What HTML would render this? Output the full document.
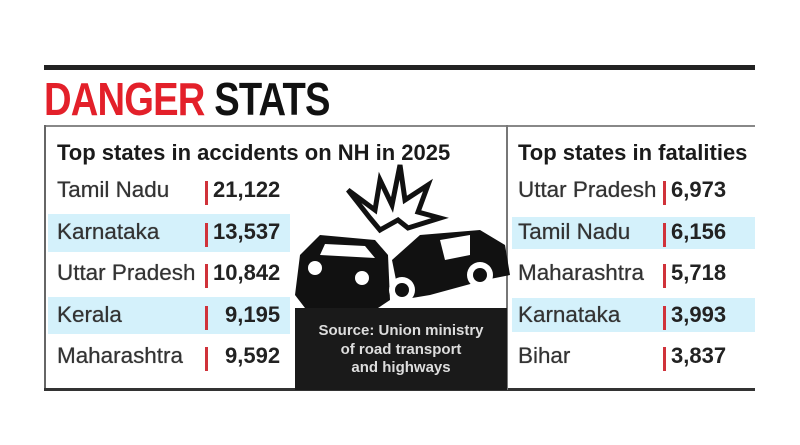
<!DOCTYPE html>
<html><head><meta charset="utf-8"><style>
body{margin:0;width:800px;height:445px;background:#fff;position:relative;overflow:hidden;font-family:"Liberation Sans Narrow","Liberation Sans",sans-serif;}
.a{position:absolute;white-space:nowrap;}
.t{font-weight:bold;font-size:46px;top:72px;left:44px;transform:scaleX(0.83);transform-origin:left;letter-spacing:-1px}
.h{font-weight:bold;font-size:22px;color:#1a1a1a;transform:scaleX(1.0);transform-origin:left}
.n{font-size:22px;color:#333;transform:scaleX(1.02);transform-origin:left;text-shadow:0 0 0.6px #333}
.v{font-size:22px;font-weight:bold;color:#222;transform:scaleX(1.0);transform-origin:left}
.bar{position:absolute;width:3px;height:24px;background:#d0323a}
.band{position:absolute;background:#d4f1fb}
</style></head><body>
<div class="a" style="left:44px;top:65px;width:711px;height:5px;background:#222"></div>
<div class="a t"><span style="color:#e3202a">DANGER</span> <span style="color:#111">STATS</span></div>
<div class="a" style="left:44px;top:125px;width:711px;height:2px;background:#888"></div>
<div class="a" style="left:44px;top:125px;width:2px;height:265px;background:#666"></div>
<div class="a" style="left:44px;top:388px;width:711px;height:3px;background:#333"></div>
<div class="a" style="left:506px;top:125px;width:2px;height:265px;background:#777"></div>
<div class="band" style="left:48px;top:214px;width:242px;height:38px"></div>
<div class="band" style="left:48px;top:297px;width:242px;height:37px"></div>
<div class="band" style="left:512px;top:217px;width:243px;height:32px"></div>
<div class="band" style="left:512px;top:298px;width:243px;height:34px"></div>
<div class="a h" style="left:57px;top:140px">Top states in accidents on NH in 2025</div>
<div class="a h" style="left:518px;top:140px">Top states in fatalities</div>

<div class="a n" style="left:57px;top:177px">Tamil Nadu</div><div class="bar" style="left:205px;top:181px"></div><div class="a v" style="left:213px;top:177px">21,122</div>
<div class="a n" style="left:57px;top:219px">Karnataka</div><div class="bar" style="left:205px;top:223px"></div><div class="a v" style="left:213px;top:219px">13,537</div>
<div class="a n" style="left:57px;top:260px">Uttar Pradesh</div><div class="bar" style="left:205px;top:264px"></div><div class="a v" style="left:213px;top:260px">10,842</div>
<div class="a n" style="left:57px;top:302px">Kerala</div><div class="bar" style="left:205px;top:306px"></div><div class="a v" style="left:225px;top:302px">9,195</div>
<div class="a n" style="left:57px;top:343px">Maharashtra</div><div class="bar" style="left:205px;top:347px"></div><div class="a v" style="left:225px;top:343px">9,592</div>

<div class="a n" style="left:518px;top:177px">Uttar Pradesh</div><div class="bar" style="left:663px;top:181px"></div><div class="a v" style="left:671px;top:177px">6,973</div>
<div class="a n" style="left:518px;top:219px">Tamil Nadu</div><div class="bar" style="left:663px;top:223px"></div><div class="a v" style="left:671px;top:219px">6,156</div>
<div class="a n" style="left:518px;top:260px">Maharashtra</div><div class="bar" style="left:663px;top:264px"></div><div class="a v" style="left:671px;top:260px">5,718</div>
<div class="a n" style="left:518px;top:302px">Karnataka</div><div class="bar" style="left:663px;top:306px"></div><div class="a v" style="left:671px;top:302px">3,993</div>
<div class="a n" style="left:518px;top:343px">Bihar</div><div class="bar" style="left:663px;top:347px"></div><div class="a v" style="left:671px;top:343px">3,837</div>

<svg class="a" style="left:280px;top:160px" width="240" height="230" viewBox="0 0 240 230">
<polygon points="68,30 95,50 100,20 112,45 120,5 125,40 148,25 138,52 160,58 128,68 118,60 100,70 90,58" fill="#fff" stroke="#111" stroke-width="5"/>
<path d="M20,95 L40,75 L95,80 L108,95 L110,140 L95,150 L25,148 L15,135 Z" fill="#111"/>
<path d="M45,84 L85,86 L95,98 L40,95 Z" fill="#fff"/>
<circle cx="35" cy="108" r="7" fill="#fff"/><circle cx="82" cy="118" r="7" fill="#fff"/>
<path d="M112,100 L140,75 L200,70 L225,85 L230,115 L205,120 L150,135 L120,140 Z" fill="#111"/>
<path d="M160,80 L190,75 L190,95 L165,100 Z" fill="#fff"/>
<circle cx="122" cy="130" r="13" fill="#fff"/><circle cx="122" cy="130" r="7" fill="#111"/>
<circle cx="200" cy="115" r="13" fill="#fff"/><circle cx="200" cy="115" r="7" fill="#111"/>
<rect x="15" y="148" width="212" height="82" fill="#1a1a1a"/>
<text x="121" y="175" text-anchor="middle" fill="#ddd" font-family="Liberation Sans" font-weight="bold" font-size="15">Source: Union ministry</text>
<text x="121" y="194" text-anchor="middle" fill="#ddd" font-family="Liberation Sans" font-weight="bold" font-size="15">of road transport</text>
<text x="121" y="212" text-anchor="middle" fill="#ddd" font-family="Liberation Sans" font-weight="bold" font-size="15">and highways</text>
</svg>
</body></html>
